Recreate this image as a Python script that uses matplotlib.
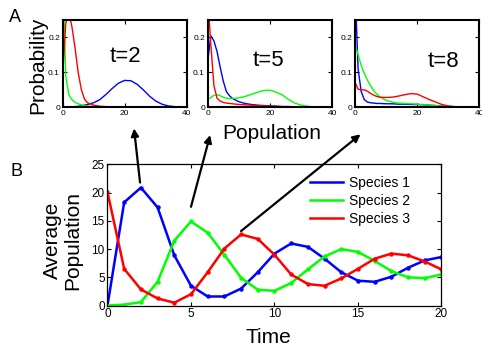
import matplotlib
matplotlib.use('Agg')
import matplotlib.pyplot as plt
from matplotlib.lines import Line2D

plt.rcParams['font.family'] = ['Liberation Sans', 'DejaVu Sans']

# --- B: average population over time ---
time = list(range(21))
species1 = [0, 18.3, 20.9, 17.4, 8.9, 3.5, 1.6, 1.6, 3.0, 5.9, 9.2,
            11.0, 10.4, 8.3, 5.9, 4.4, 4.2, 5.1, 6.7, 8.0, 8.6]
species2 = [0, 0.15, 0.6, 4.2, 11.5, 14.9, 12.9, 9.0, 4.9, 2.8, 2.6,
            4.0, 6.4, 8.7, 10.0, 9.5, 7.9, 6.1, 5.0, 4.85, 5.5]
species3 = [20.1, 6.5, 2.85, 1.25, 0.5, 2.0, 5.9, 10.1, 12.6, 11.8, 9.0,
            5.5, 3.8, 3.5, 4.8, 6.5, 8.3, 9.2, 8.9, 7.8, 6.4]
labels = ['Species 1', 'Species 2', 'Species 3']
colors = ['#0000ff', '#00ff00', '#ff0000']

# --- A: probability distributions at t=2, 5, 8 ---
pop = [0, 1, 2, 3, 4, 5, 6, 7, 8, 10, 12, 14, 16, 18, 20,
       22, 24, 26, 28, 30, 32, 34, 36, 38, 40]
snap_times = [2, 5, 8]

t2_s1 = [0, 0, 0, 0.001, 0.002, 0.003, 0.004, 0.006, 0.008, 0.013, 0.022, 0.037, 0.054,
         0.069, 0.077, 0.076, 0.066, 0.05, 0.032, 0.018, 0.009, 0.004, 0.002, 0.001, 0]
t2_s2 = [0.4, 0.09, 0.035, 0.022, 0.014, 0.01, 0.007, 0.005, 0.004, 0.002, 0.001, 0.001, 0,
         0, 0, 0, 0, 0, 0, 0, 0, 0, 0, 0, 0]
t2_s3 = [0.09, 0.24, 0.27, 0.23, 0.17, 0.10, 0.052, 0.024, 0.013, 0.006, 0.003, 0.002, 0.001,
         0, 0, 0, 0, 0, 0, 0, 0, 0, 0, 0, 0]

t5_s1 = [0.13, 0.205, 0.19, 0.16, 0.115, 0.075, 0.045, 0.033, 0.025, 0.016, 0.011, 0.008, 0.006,
         0.005, 0.004, 0.003, 0.002, 0.002, 0.001, 0.001, 0, 0, 0, 0, 0]
t5_s2 = [0.022, 0.028, 0.034, 0.036, 0.033, 0.029, 0.026, 0.025, 0.025, 0.027, 0.031, 0.037, 0.043,
         0.048, 0.049, 0.043, 0.035, 0.022, 0.012, 0.006, 0.003, 0.001, 0, 0, 0]
t5_s3 = [0.32, 0.18, 0.062, 0.026, 0.018, 0.014, 0.012, 0.011, 0.010, 0.008, 0.007, 0.006, 0.005,
         0.004, 0.003, 0.003, 0.002, 0.002, 0.001, 0.001, 0, 0, 0, 0, 0]

t8_s1 = [0.35, 0.11, 0.045, 0.022, 0.015, 0.013, 0.012, 0.011, 0.011, 0.010, 0.010, 0.009, 0.009,
         0.008, 0.008, 0.007, 0.006, 0.005, 0.003, 0.002, 0.001, 0.001, 0, 0, 0]
t8_s2 = [0.183, 0.15, 0.12, 0.097, 0.078, 0.062, 0.048, 0.038, 0.030, 0.020, 0.015, 0.012, 0.011,
         0.010, 0.009, 0.008, 0.006, 0.005, 0.003, 0.002, 0.001, 0, 0, 0, 0]
t8_s3 = [0.072, 0.052, 0.050, 0.050, 0.046, 0.040, 0.035, 0.031, 0.029, 0.028, 0.029, 0.032, 0.036,
         0.039, 0.038, 0.030, 0.022, 0.015, 0.008, 0.004, 0.002, 0.001, 0.001, 0, 0]

snapshots = [(t2_s1, t2_s2, t2_s3), (t5_s1, t5_s2, t5_s3), (t8_s1, t8_s2, t8_s3)]

# arrows from panel B points up to panel A
arrow_tails = [(1.95, 21.8), (5.0, 17.5), (8.0, 13.2)]
arrow_heads = [(0.278, 0.631), (0.436, 0.612), (0.748, 0.614)]

fig = plt.figure(figsize=(4.82, 3.48), dpi=100)

top_boxes = [[0.130, 0.6917, 0.2573, 0.2509],
             [0.4309, 0.6917, 0.2585, 0.2509],
             [0.7365, 0.6917, 0.2573, 0.2509]]
text_pos = [(0.51, 0.585), (0.49, 0.54), (0.71, 0.525)]

for box, curves, t, tp in zip(top_boxes, snapshots, snap_times, text_pos):
    ax = fig.add_axes(box)
    for y, c in zip(curves, colors):
        ax.plot(pop, y, color=c, lw=1.0)
    ax.set_xlim(0, 40)
    ax.set_ylim(0, 0.25)
    ax.set_xticks([0, 20, 40])
    ax.set_yticks([0, 0.1, 0.2])
    ax.set_yticklabels(['0', '0.1', '0.2'])
    ax.tick_params(direction='in', top=True, right=True, length=3, width=0.8,
                   labelsize=6, pad=2)
    for s in ax.spines.values():
        s.set_linewidth(1.5)
    ax.text(tp[0], tp[1], 't=%d' % t, transform=ax.transAxes, fontsize=16,
            ha='center', va='center')

fig.text(37.5 / 482, 1 - 65 / 348, 'Probability', rotation=90, fontsize=15,
         ha='center', va='center')
fig.text(0.5643, 0.6006, 'Population', fontsize=15, ha='center', va='baseline')

axb = fig.add_axes([0.2230, 0.1221, 0.6929, 0.4052])
for y, c, lab in zip([species1, species2, species3], colors, labels):
    axb.plot(time, y, color=c, lw=1.8, marker='o', markersize=3.2,
             markeredgewidth=0, label=lab)
axb.set_xlim(0, 20)
axb.set_ylim(0, 25)
axb.set_xticks(range(0, 21, 5))
axb.set_yticks(range(0, 26, 5))
axb.tick_params(direction='in', top=True, right=True, length=3, width=0.8,
                labelsize=8.5, pad=2)
for s in axb.spines.values():
    s.set_linewidth(0.9)
handles = [Line2D([], [], color=c, lw=1.8) for c in colors]
axb.legend(handles, labels, loc='upper left', bbox_to_anchor=(0.606, 0.92),
           frameon=False, fontsize=10, handlelength=2.4, handletextpad=0.4,
           labelspacing=0.3, borderpad=0, borderaxespad=0)

fig.text(268.4 / 482, 0.0135, 'Time', fontsize=15, ha='center', va='baseline')
fig.text(63 / 482, 1 - 240.5 / 348, 'Average\nPopulation', rotation=90, fontsize=15,
         ha='center', va='center', multialignment='center', linespacing=1.1)

for tail, head in zip(arrow_tails, arrow_heads):
    axb.annotate('', xy=head, xycoords='figure fraction', xytext=tail,
                 textcoords='data', annotation_clip=False,
                 arrowprops=dict(arrowstyle='-|>', lw=1.6, color='k',
                                 shrinkA=0, shrinkB=0, mutation_scale=11))

fig.text(15 / 482, 1 - 17.5 / 348, 'A', fontsize=13, ha='center', va='center')
fig.text(16 / 482, 1 - 171.5 / 348, 'B', fontsize=13, ha='center', va='center')

fig.savefig('out.png', dpi=100)
